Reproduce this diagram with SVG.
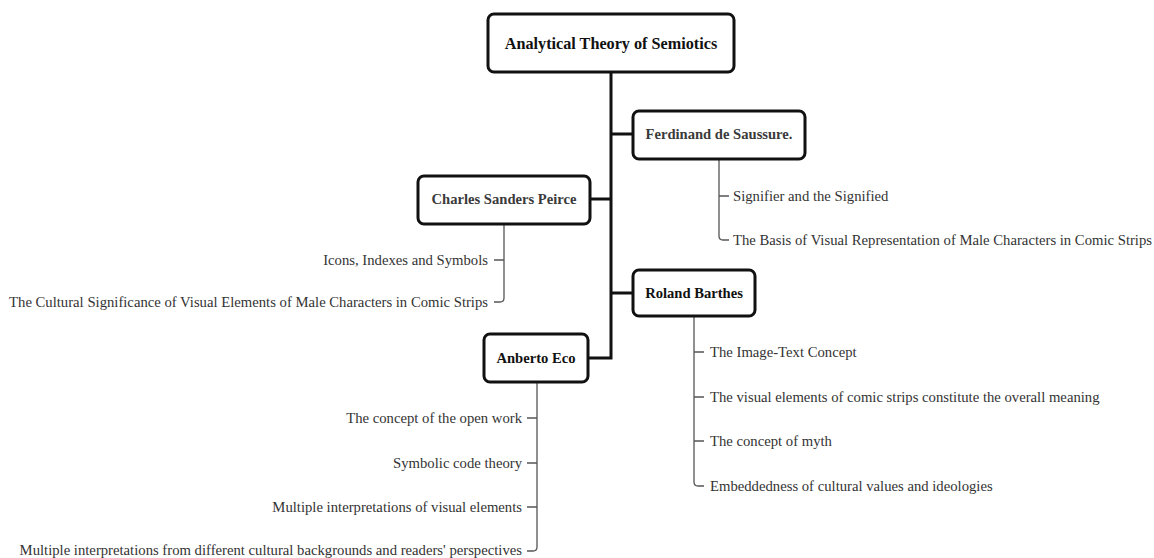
<svg xmlns="http://www.w3.org/2000/svg" width="1154" height="558" viewBox="0 0 1154 558">
<style>
.box{fill:#fff;stroke:#111;stroke-width:3}
.hd{font-family:"Liberation Serif","Times New Roman",serif;font-weight:bold;font-size:14.6px;text-anchor:middle}
.root{font-size:16.2px;fill:#111}
.dk{fill:#111}
.gr{fill:#3a3a3a}
.trunk{fill:none;stroke:#111;stroke-width:3}
.sub{fill:none;stroke:#555;stroke-width:1.3}
.lf{font-family:"Liberation Serif","Times New Roman",serif;font-size:14.7px;fill:#333}
.r{text-anchor:end}
</style>
<rect x="0" y="0" width="1154" height="558" fill="#fff"/>
<g id="connectors">
<path class="trunk" d="M611,72 V358 H588 M611,134 H633 M588,199 H611 M611,293 H633"/>
<path class="sub" d="M719,159 V236 Q719,240 723,240 H729 M719,196 H729"/>
<path class="sub" d="M504,224 V298 Q504,302 500,302 H494 M504,260 H494"/>
<path class="sub" d="M694,316 V482 Q694,486 698,486 H704 M694,352 H704 M694,397 H704 M694,441 H704"/>
<path class="sub" d="M537,382 V547 Q537,551 533,551 H527 M537,418 H527 M537,463 H527 M537,507 H527"/>
</g>
<g id="root">
<rect class="box" x="488" y="14" width="246" height="58" rx="6"/>
<text class="hd root" x="611" y="48.5">Analytical Theory of Semiotics</text>
</g>
<g id="saussure">
<rect class="box" x="633" y="111" width="172" height="48" rx="6"/>
<text class="hd gr" x="719" y="139">Ferdinand de Saussure.</text>
</g>
<g id="peirce">
<rect class="box" x="418" y="176" width="172" height="48" rx="6"/>
<text class="hd gr" x="504" y="204">Charles Sanders Peirce</text>
</g>
<g id="barthes">
<rect class="box" x="633" y="270" width="122" height="46" rx="6"/>
<text class="hd dk" x="694" y="298">Roland Barthes</text>
</g>
<g id="eco">
<rect class="box" x="484" y="334" width="104" height="48" rx="6"/>
<text class="hd dk" x="536" y="363">Anberto Eco</text>
</g>
<g id="saussure-children">
<text class="lf" x="733" y="201">Signifier and the Signified</text>
<text class="lf" x="733" y="245">The Basis of Visual Representation of Male Characters in Comic Strips</text>
</g>
<g id="peirce-children">
<text class="lf r" x="488" y="265">Icons, Indexes and Symbols</text>
<text class="lf r" x="488" y="307">The Cultural Significance of Visual Elements of Male Characters in Comic Strips</text>
</g>
<g id="barthes-children">
<text class="lf" x="710" y="357">The Image-Text Concept</text>
<text class="lf" x="710" y="402">The visual elements of comic strips constitute the overall meaning</text>
<text class="lf" x="710" y="446">The concept of myth</text>
<text class="lf" x="710" y="491">Embeddedness of cultural values and ideologies</text>
</g>
<g id="eco-children">
<text class="lf r" x="522" y="423">The concept of the open work</text>
<text class="lf r" x="522" y="468">Symbolic code theory</text>
<text class="lf r" x="522" y="512">Multiple interpretations of visual elements</text>
<text class="lf r" x="522" y="555">Multiple interpretations from different cultural backgrounds and readers' perspectives</text>
</g>
</svg>
